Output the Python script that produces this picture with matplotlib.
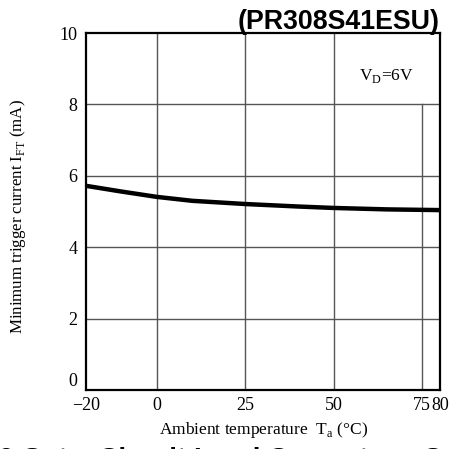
import matplotlib.pyplot as plt

# curve
temp = [-20, -10, 0, 10, 25, 40, 50, 65, 80]
i_ft = [5.72, 5.56, 5.41, 5.30, 5.21, 5.14, 5.10, 5.06, 5.04]

x_ticks = [-20, 0, 25, 50, 75, 80]
y_ticks = [0, 2, 4, 6, 8, 10]
v_grid = [0, 25, 50]
h_grid = [2, 4, 6, 8]

serif = ["Liberation Serif", "DejaVu Serif"]

fig = plt.figure(figsize=(4.56, 4.49), dpi=100)
ax = fig.add_axes([0.1886, 0.1314, 0.7763, 0.795])

for y in h_grid:
    ax.axhline(y, color="#555555", lw=1.0, zorder=1)
for x in v_grid:
    ax.axvline(x, color="#555555", lw=1.0, zorder=1)
# the 75 line stops under the text box
ax.plot([75, 75], [0, 8], color="#555555", lw=1.0, zorder=1)

ax.plot(temp, i_ft, color="black", lw=3.2, solid_capstyle="butt", zorder=3)

ax.set_xlim(-20, 80)
ax.set_ylim(0, 10)
ax.set_xticks(x_ticks)
ax.set_xticklabels(["\u221220", "0", "25", "50", "75", "80"], family=serif, fontsize=13)
ax.set_yticks(y_ticks)
ax.set_yticklabels([str(v) for v in y_ticks], family=serif, fontsize=13)
ax.tick_params(length=0, pad=5)
ax.tick_params(axis="y", pad=6)
# the 0 on the y axis sits a little higher in the original
ax.get_yticklabels()[0].set_verticalalignment("bottom")
for s in ax.spines.values():
    s.set_linewidth(1.6)
    s.set_color("black")

ax.text(0.85, 0.88, "V$_\\mathregular{D}$=6V", transform=ax.transAxes,
        ha="center", va="center", family=serif, fontsize=12.5)

fig.text(0.04, 0.517, "Minimum trigger current I$_\\mathregular{FT}$ (mA)", rotation=90,
         ha="center", va="center", family=serif, fontsize=12.2)
fig.text(0.577, 0.043, "Ambient temperature  T$_\\mathregular{a}$ (\u00b0C)", ha="center",
         va="center", family=serif, fontsize=12.5)

fig.text(0.965, 0.935, "(PR308S41ESU)", ha="right", va="baseline",
         family=["Liberation Sans", "DejaVu Sans"], fontweight="bold", fontsize=19.3)

# caption cut off at the bottom edge
fig.text(-0.005, -0.04, "6 Gate  Circuit Load Current vs. Case", ha="left", va="baseline",
         family=["Liberation Sans", "DejaVu Sans"], fontweight="bold", fontsize=20)

fig.savefig("out.png", dpi=100)
